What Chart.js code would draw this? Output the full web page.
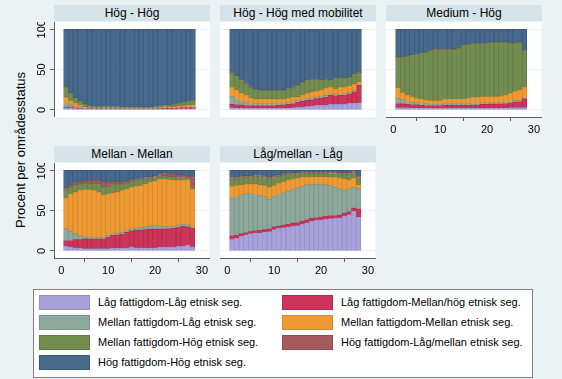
<!DOCTYPE html>
<html>
<head>
<meta charset="utf-8">
<script src="https://cdn.jsdelivr.net/npm/chart.js@4.4.1/dist/chart.umd.min.js"></script>
<style>
  body { margin: 0; width: 562px; height: 379px; background: #eaf2f3; position: relative; overflow: hidden;
         font-family: "Liberation Sans", Arial, sans-serif; }
  canvas { position: absolute; }
  .strip { position: absolute; width: 156px; height: 16px; background: #d6e4ea; font-size: 12px;
           line-height: 16px; text-align: center; color: #000; }
  #ytitle { position: absolute; left: 20px; top: 150px; transform: translate(-50%, -50%) rotate(-90deg);
            font-size: 13px; white-space: nowrap; color: #000; }
  #legend { position: absolute; left: 33px; top: 289px; width: 498px; height: 87px; background: #fff;
            border: 1px solid #7f7f7f; }
  .sw { position: absolute; width: 49px; height: 13px; border: 1px solid; }
  .lt { position: absolute; font-size: 11px; line-height: 15px; white-space: nowrap; color: #000; }
</style>
</head>
<body>
<div id="ytitle">Procent per områdesstatus</div>
<div id="legend"></div>
<script>
// x positions of the bars
const xs = [1,2,3,4,5,6,7,8,9,10,11,12,13,14,15,16,17,18,19,20,21,22,23,24,25,26,27,28];
const xTicks = [0, 10, 20, 30];
const yTicks = [0, 50, 100];

const seriesNames = [
  "Låg fattigdom-Låg etnisk seg.",
  "Låg fattigdom-Mellan/hög etnisk seg.",
  "Mellan fattigdom-Låg etnisk seg.",
  "Mellan fattigdom-Mellan etnisk seg.",
  "Mellan fattigdom-Hög etnisk seg.",
  "Hög fattigdom-Låg/mellan etnisk seg.",
  "Hög fattigdom-Hög etnisk seg."
];
const panelTitles = ["Hög - Hög", "Hög - Hög med mobilitet", "Medium - Hög", "Mellan - Mellan", "Låg/mellan - Låg"];

// one row per series, same order as seriesNames (bottom to top in the stack)
const hogHog = [
  [2,2,1.5,1.5,1,1,1,1,1,1,1,1,1,1,1,1,1,1,1,1,1,1,1,1,1.5,1.5,1.5,1.5],
  [1.5,1.5,1,1,0.5,0.5,0.5,0.5,0.5,0.5,0.5,0.5,0.5,0.5,0.5,0.5,0.5,0.5,0.5,0.5,0.5,1,1,1,1,1.5,1.5,1.5],
  [4.5,3,2,1.5,1,0.5,0.5,0.5,0.5,0.5,0.5,0.5,0.5,0.5,0.5,0.5,0.5,0.5,0.5,0.5,0.5,0.5,0.5,0.5,0.5,0.5,0.5,0.5],
  [8,5,3.5,2.5,1.5,1,0.5,0.5,0.5,0.5,0.5,0.5,0.5,0.5,0.5,0.5,0.5,0.5,0.5,0.5,1,1,1,1.5,1.5,1.5,2,2],
  [12.5,9.5,7,4.5,3.5,2,2,2,2,2,2,2,1.5,1.5,1,1,1,1,1.5,2,2,2,2.5,3,4,4.5,5.5,7],
  [0.5,0,0,0,0,0,0,0,0,0,0,0,0,0,0,0,0,0,0,0,0,0,0,0,0,0,0,0],
  [71,79,85,89,92.5,95,95.5,95.5,95.5,95.5,95.5,95.5,96,96,96.5,96.5,96.5,96.5,96,95.5,95,94.5,94,93,91.5,90.5,89,87.5]
];
const hogMobil = [
  [3,2.5,2.5,2,2,2,2,2,2,2,2,2.5,2.5,3,3.5,4,4.5,5,5.5,6,6,7,7,7,7.5,8,8.5,9],
  [4,4,3.5,3.5,3.5,3.5,3.5,3.5,3.5,3.5,4,4,4.5,5,6,7,7.5,8,8.5,9,10,11,10.5,11,11,12,14,22],
  [10,6.5,4.5,3.5,2.5,2,2,2,2,2,2,2,2,2,2,2,2,2,2,2,2,2,1.5,1.5,1.5,1.5,1.5,1],
  [11,12,10.5,9,6.5,6,6,6,6,6,5.5,5,5.5,5.5,4.5,5.5,6.5,7.5,7,8,9,8,6.5,8.5,8,8.5,8,3],
  [17.5,16.5,15.5,14.5,13,12,11,11,11,11,11,11,12,12,14.5,16,16,15,14.5,11.5,10.5,8.5,13,11.5,11.5,10.5,12,11],
  [1,0.5,0.5,0.5,0.5,0.5,0.5,0.5,0.5,0.5,0.5,0.5,0.5,0.5,0.5,0.5,0.5,0.5,0.5,0.5,0.5,0.5,0.5,0.5,0.5,0.5,0.5,0.5],
  [53.5,58,63,67,72,74,75,75,75,75,75,75,73,72,69,65,63,62,62,63,62,63,61,60,60,59,55.5,53.5]
];
const mediumHog = [
  [3,3,3,2.5,2.5,2.5,2,2,2,2,2,2,2,2,2,2,2,2,2,2,2.5,2.5,2.5,2.5,3,3,3,3],
  [5,4.5,4,4,4,3.5,3.5,3.5,3.5,3.5,4,4,4,4,4,4,4.5,4.5,5,5,5,5,5,5.5,6,7,7,11],
  [6.5,5,3.5,3,2.5,2,2,1.5,1.5,1.5,1.5,1.5,1.5,1.5,1.5,1.5,1.5,1.5,1.5,1.5,1.5,1.5,1.5,1.5,1.5,1.5,1.5,1.5],
  [13,9,8,7,5.5,5,5,4.5,4.5,4.5,5.5,5.5,5.5,5.5,5.5,7,7.5,7.5,8,8,7.5,7.5,8,9,10,12,13.5,12.5],
  [38,44,48,51,54,56.5,59,62,64,63,61.5,62.5,62,63,67.5,67,66.5,66.5,65.5,66.5,67,67.5,66.5,65,61.5,59.5,59,45.5],
  [0.5,0.5,0.5,0.5,0.5,0.5,0.5,0.5,0.5,0.5,0.5,0.5,0.5,0.5,0.5,0.5,0.5,0.5,0.5,0.5,0.5,0.5,0.5,0.5,0.5,0.5,0.5,0.5],
  [34,34,33,32,31,30,28,26,24,25,25,24,24.5,23.5,19,18,17.5,17.5,17.5,16.5,16,15.5,16,16,17.5,16.5,15.5,26]
];
const mellanMellan = [
  [6,5,4,3.5,3,3,3,3,3,3,3.5,3.5,3.5,4,5,4,4,4,4,4,4.5,5,5,5,5.5,6,7,5],
  [7,8,10,10.5,12,12,12,12,12,14,16,16.5,17.5,19,20,22,22,22.5,23,23,22.5,22,22.5,23,23.5,24.5,23,23],
  [14.5,11.5,7,5,2.5,2,2,1.5,2,2,1.5,2,2,2,2,2.5,3,3.5,4,4.5,4,3.5,2.5,3,3,2.5,2.5,2],
  [37.5,45.5,52,56,58.5,59,58,56.5,52,51,51,51,52,52,52,51.5,52,53,54,55.5,58,58.5,58.5,57,56,55,55.5,47],
  [11,9,9,8,8,8,9,10.5,10.5,10,11,10,8,7,7,7.5,7,6,5,4,4,4,3.5,4,3,3,2,3],
  [2,3,3,3,3,3.5,4,4.5,6.5,5,3,3,3,2.5,2,1.5,2,2,2,2,2,3,3,3,3,3,3,11],
  [22,18,15,14,13,12.5,12,12,14,15,14,14,14,13.5,12,11,10,9,8,7,5,4,5,5,6,6,7,9]
];
const lagMellanLag = [
  [14.5,15.5,18.5,20,21.5,22.5,22.5,23.5,24,26.5,28,29,30,31,31.5,33,35,37,38,38.5,39,40,40.5,41,43,45,49.5,42],
  [4,4,3,2.5,2.5,2.5,3,3,3,3.5,3,3,3,3.5,3.5,4,3.5,3.5,3.5,3.5,4,3.5,3.5,3.5,3.5,3.5,3.5,10],
  [47,48,48,48.5,47,45,43,40.5,37,37,39,40,41,41.5,43,43,43.5,42,41,40.5,39,37.5,35,32.5,28.5,28.5,26,25],
  [14.5,13.5,12.5,11.5,12,13,13.5,14,15,14,14,14,13.5,13,12.5,11,9.5,9.5,9.5,9.5,10,10.5,12,13,14,11,11,5],
  [9,9,9,9,9,9,10,10,11,10,9,8,7.5,6.5,5.5,5.5,5,4.5,4.5,4.5,4.5,4.5,5,5.5,6,7,6,9],
  [2,1.5,1.5,1.5,1,1.5,1.5,1.5,1.5,1.5,1,1,1,1,1,1,1,1,1,1,1,1.5,1.5,1.5,2,2,2,1.5],
  [9,8.5,7.5,7,7,6.5,6.5,7.5,8.5,7.5,6,5,4,3.5,3,2.5,2.5,2.5,2.5,2.5,2.5,2.5,2.5,3,3,3,2,7.5]
];

const fills   = ["#a8a2da", "#cd3459", "#8da89c", "#ee9a34", "#738d51", "#a65b5e", "#46698c"];
const borders = ["#948ec8", "#b42a4c", "#7b9589", "#d7882a", "#627a43", "#914b4e", "#38597b"];
const font = '"Liberation Sans", Arial, sans-serif';
const axisColor = "#5f5f5f";

const panels = [
  { title: panelTitles[0], data: hogHog,       left: 54,  top: 22,  yAxis: true,  xAxis: false },
  { title: panelTitles[1], data: hogMobil,     left: 220, top: 22,  yAxis: false, xAxis: false },
  { title: panelTitles[2], data: mediumHog,    left: 386, top: 22,  yAxis: false, xAxis: true },
  { title: panelTitles[3], data: mellanMellan, left: 54,  top: 163, yAxis: true,  xAxis: true },
  { title: panelTitles[4], data: lagMellanLag, left: 220, top: 163, yAxis: false, xAxis: true }
];

// white plot region
const plotBg = {
  id: "plotBg",
  beforeDraw(chart) {
    const { ctx, chartArea: a } = chart;
    ctx.save();
    ctx.fillStyle = "#fff";
    ctx.fillRect(a.left, a.top, a.right - a.left, a.bottom - a.top);
    ctx.restore();
  }
};

// stata style vertical y labels
const yLabels = {
  id: "yLabels",
  afterDraw(chart, args, opts) {
    if (!opts.show) return;
    const { ctx, chartArea, scales: { y } } = chart;
    ctx.save();
    ctx.font = "11px " + font;
    ctx.fillStyle = "#000";
    ctx.textAlign = "center";
    ctx.textBaseline = "middle";
    yTicks.forEach(v => {
      ctx.save();
      ctx.translate(chartArea.left - 13, y.getPixelForValue(v));
      ctx.rotate(-Math.PI / 2);
      ctx.fillText(String(v), 0, 1);
      ctx.restore();
    });
    ctx.restore();
  }
};

panels.forEach(p => {
  const strip = document.createElement("div");
  strip.className = "strip";
  strip.style.left = p.left + "px";
  strip.style.top = (p.top - 17) + "px";
  strip.textContent = p.title;
  document.body.appendChild(strip);

  const yw = p.yAxis ? 30 : 0;
  const xh = p.xAxis ? 22 : 0;
  const cv = document.createElement("canvas");
  cv.width = 156 + yw;
  cv.height = 95 + xh;
  cv.style.left = (p.left - yw) + "px";
  cv.style.top = p.top + "px";
  document.body.appendChild(cv);

  new Chart(cv, {
    type: "bar",
    data: {
      datasets: p.data.map((vals, i) => ({
        label: seriesNames[i],
        data: xs.map((x, j) => ({ x: x, y: vals[j] })),
        backgroundColor: fills[i],
        borderColor: borders[i],
        borderWidth: 0.8,
        borderSkipped: false,
        barPercentage: 1,
        categoryPercentage: 1
      }))
    },
    options: {
      responsive: false,
      animation: false,
      layout: { padding: 0 },
      plugins: { legend: { display: false }, tooltip: { enabled: false }, yLabels: { show: p.yAxis } },
      scales: {
        x: {
          type: "linear", stacked: true, min: -1.55, max: 31.6, offset: false, display: p.xAxis,
          afterBuildTicks: s => { s.ticks = xTicks.map(v => ({ value: v })); },
          afterFit: s => { s.height = xh; },
          grid: { drawOnChartArea: false, tickLength: 4, tickColor: axisColor },
          border: { color: axisColor },
          ticks: { font: { size: 11, family: font }, color: "#000", padding: 2, maxRotation: 0 }
        },
        y: {
          stacked: true, min: -8.7, max: 109, display: true,
          afterBuildTicks: s => { s.ticks = yTicks.map(v => ({ value: v })); },
          afterFit: s => { s.width = yw; },
          grid: { color: "#eaf2f3", drawTicks: p.yAxis, tickLength: 4, tickColor: axisColor },
          border: { display: p.yAxis, color: axisColor },
          ticks: { display: false }
        }
      }
    },
    plugins: [plotBg, yLabels]
  });
});

// legend, two columns, row by row
const legend = document.getElementById("legend");
seriesNames.forEach((name, i) => {
  const row = Math.floor(i / 2), col = i % 2;
  const top = 5 + row * 20;
  const sw = document.createElement("div");
  sw.className = "sw";
  sw.style.left = (col ? 248 : 5) + "px";
  sw.style.top = top + "px";
  sw.style.background = fills[i];
  sw.style.borderColor = borders[i];
  legend.appendChild(sw);
  const t = document.createElement("div");
  t.className = "lt";
  t.style.left = (col ? 307 : 64) + "px";
  t.style.top = top + "px";
  t.textContent = name;
  legend.appendChild(t);
});
</script>
</body>
</html>
